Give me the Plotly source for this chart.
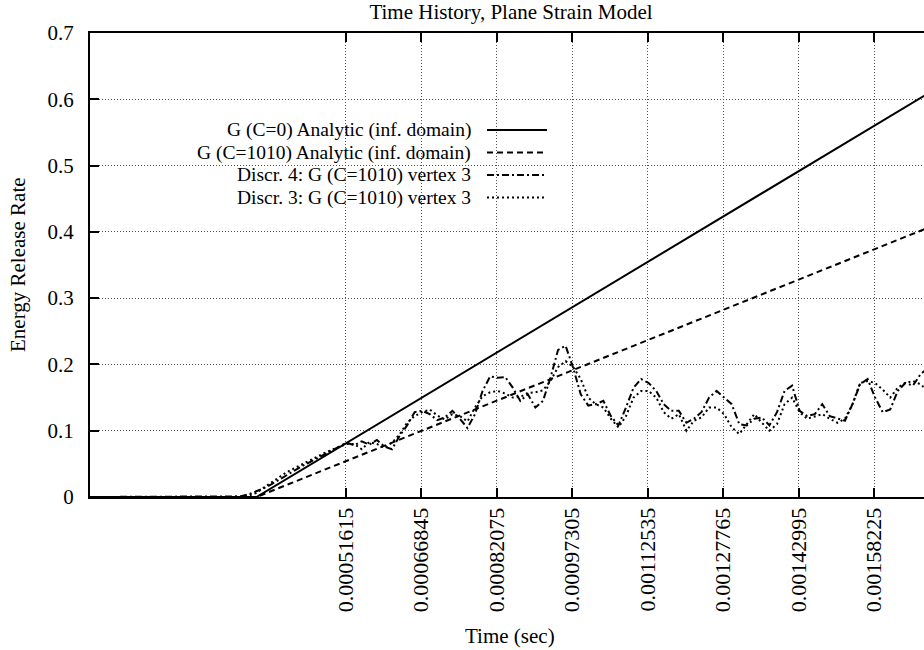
import plotly.graph_objects as go

# ---------------- data ----------------
title_text = "Time History, Plane Strain Model"
x_title = "Time (sec)"
y_title = "Energy Release Rate"

series_names = [
    "G (C=0) Analytic (inf. domain)",
    "G (C=1010) Analytic (inf. domain)",
    "Discr. 4: G (C=1010) vertex 3",
    "Discr. 3: G (C=1010) vertex 3",
]

# analytic solutions (straight lines after crack initiation), time in microseconds
analytic_time_us = [0.0, 336.0, 1700.0]
g_c0_analytic = [0.0, 0.0, 0.613]
g_c1010_analytic = [0.0, 0.0, 0.409]

# discrete simulation output, time in microseconds
discr_time_us = [
    0.0,
    304.6, 319.8, 335.1, 350.3, 365.5, 380.8, 396.0, 411.2, 426.4, 441.7,
    456.9, 472.1, 487.4, 502.6, 517.8, 533.1, 548.3, 563.5, 578.7, 594.0,
    609.2, 624.4, 639.7, 654.9, 670.1, 685.4, 700.6, 715.8, 731.0, 746.3,
    761.5, 776.7, 792.0, 807.2, 822.4, 837.7, 852.9, 868.1, 883.3, 898.6,
    913.8, 929.0, 944.3, 959.5, 974.7, 990.0, 1005.2, 1020.4, 1035.6, 1050.9,
    1066.1, 1081.3, 1096.6, 1111.8, 1127.0, 1142.3, 1157.5, 1172.7, 1187.9, 1203.2,
    1218.4, 1233.6, 1248.9, 1264.1, 1279.3, 1294.6, 1309.8, 1325.0, 1340.2, 1355.5,
    1370.7, 1385.9, 1401.2, 1416.4, 1431.6, 1446.9, 1462.1, 1477.3, 1492.5, 1507.8,
    1523.0, 1538.2, 1553.5, 1568.7, 1583.9, 1599.2, 1614.4, 1629.6, 1644.8, 1660.1,
    1675.3, 1690.5,
]

g_discr4 = [
    0.0,
    0.001, 0.004, 0.008, 0.013, 0.019, 0.026, 0.033, 0.040, 0.046, 0.052,
    0.058, 0.064, 0.070, 0.076, 0.082, 0.078, 0.084, 0.079, 0.086, 0.076,
    0.072, 0.092, 0.108, 0.128, 0.130, 0.125, 0.116, 0.120, 0.130, 0.118,
    0.104, 0.125, 0.160, 0.182, 0.180, 0.181, 0.165, 0.145, 0.155, 0.135,
    0.145, 0.180, 0.222, 0.228, 0.195, 0.155, 0.138, 0.140, 0.145, 0.122,
    0.108, 0.135, 0.165, 0.178, 0.172, 0.160, 0.140, 0.130, 0.130, 0.112,
    0.118, 0.128, 0.150, 0.160, 0.150, 0.140, 0.110, 0.108, 0.118, 0.120,
    0.108, 0.128, 0.160, 0.168, 0.130, 0.122, 0.125, 0.140, 0.122, 0.118,
    0.115, 0.140, 0.170, 0.178, 0.150, 0.128, 0.132, 0.160, 0.172, 0.168,
    0.185, 0.195,
]

g_discr3 = [
    0.0,
    0.000, 0.002, 0.006, 0.014, 0.022, 0.030, 0.037, 0.043, 0.049, 0.055,
    0.060, 0.066, 0.071, 0.076, 0.080, 0.080, 0.072, 0.083, 0.080, 0.074,
    0.082, 0.094, 0.112, 0.122, 0.128, 0.132, 0.123, 0.117, 0.125, 0.122,
    0.114, 0.135, 0.152, 0.158, 0.160, 0.156, 0.150, 0.151, 0.157, 0.158,
    0.161, 0.175, 0.196, 0.205, 0.196, 0.178, 0.150, 0.140, 0.135, 0.118,
    0.105, 0.122, 0.150, 0.160, 0.160, 0.150, 0.128, 0.118, 0.125, 0.100,
    0.115, 0.120, 0.135, 0.135, 0.125, 0.105, 0.095, 0.110, 0.125, 0.112,
    0.100, 0.110, 0.140, 0.150, 0.128, 0.118, 0.122, 0.125, 0.118, 0.112,
    0.118, 0.140, 0.172, 0.175, 0.172, 0.162, 0.150, 0.165, 0.172, 0.175,
    0.170, 0.160,
]

x_tick_values = [0.00051615, 0.00066845, 0.00082075, 0.00097305,
                 0.00112535, 0.00127765, 0.00142995, 0.00158225]
x_tick_labels = ["0.00051615", "0.00066845", "0.00082075", "0.00097305",
                 "0.00112535", "0.00127765", "0.00142995", "0.00158225"]
y_tick_values = [0, 0.1, 0.2, 0.3, 0.4, 0.5, 0.6, 0.7]
y_tick_labels = ["0", "0.1", "0.2", "0.3", "0.4", "0.5", "0.6", "0.7"]

x_range = [0.0, 0.0016825]
y_range = [0.0, 0.7]

# ---------------- styling ----------------
FONT = "Liberation Serif"
FS = 21
LEG_FS = 19.5
dashes = ["solid", "6px,4px", "7px,3px,2px,3px", "2px,3px"]

t_analytic = [v * 1e-6 for v in analytic_time_us]
t_discr = [v * 1e-6 for v in discr_time_us]

fig = go.Figure()
fig.add_trace(go.Scatter(x=t_analytic, y=g_c0_analytic, mode="lines", name=series_names[0],
                         line=dict(color="black", width=2, dash=dashes[0])))
fig.add_trace(go.Scatter(x=t_analytic, y=g_c1010_analytic, mode="lines", name=series_names[1],
                         line=dict(color="black", width=2, dash=dashes[1])))
fig.add_trace(go.Scatter(x=t_discr, y=g_discr4, mode="lines", name=series_names[2],
                         line=dict(color="black", width=2, dash=dashes[2])))
fig.add_trace(go.Scatter(x=t_discr, y=g_discr3, mode="lines", name=series_names[3],
                         line=dict(color="black", width=2, dash=dashes[3])))

# gnuplot-style legend: right-aligned text, sample line to the right
L = 90.0
W = 834.0
T = 33.0
H = 464.0
text_right = (473 - L) / W
sample_x0 = (487 - L) / W
sample_x1 = (547 - L) / W
row_px = [130.0, 152.5, 175.0, 197.5]
annotations = []
shapes = []
for name, dash, rp in zip(series_names, dashes, row_px):
    yp = (T + H - rp) / H
    annotations.append(dict(text=name, xref="paper", yref="paper", x=text_right, y=yp,
                            xanchor="right", yanchor="middle", showarrow=False,
                            font=dict(family=FONT, size=LEG_FS, color="black")))
    shapes.append(dict(type="line", xref="paper", yref="paper", x0=sample_x0, x1=sample_x1,
                       y0=yp, y1=yp, line=dict(color="black", width=2, dash=dash)))

annotations.append(dict(text=y_title, xref="paper", yref="paper", x=(18 - L) / W, y=0.5,
                        xanchor="center", yanchor="middle", textangle=-90, showarrow=False,
                        font=dict(family=FONT, size=FS, color="black")))
annotations.append(dict(text=x_title, xref="paper", yref="paper", x=(510 - L) / W,
                        y=(T + H - 636) / H, xanchor="center", yanchor="middle",
                        showarrow=False, font=dict(family=FONT, size=FS, color="black")))

fig.update_layout(
    width=924, height=650,
    margin=dict(l=90, r=0, t=33, b=153, pad=0),
    paper_bgcolor="white", plot_bgcolor="white",
    showlegend=False,
    font=dict(family=FONT, size=FS, color="black"),
    title=dict(text=title_text, x=511 / 924, xanchor="center", y=1 - 12 / 650, yanchor="middle",
               xref="container", yref="container", font=dict(family=FONT, size=FS, color="black")),
    annotations=annotations,
    shapes=shapes,
)
fig.update_xaxes(range=x_range, tickvals=x_tick_values, ticktext=x_tick_labels,
                 tickangle=-90, ticks="inside", ticklen=9, tickwidth=2, tickcolor="black",
                 showline=True, linecolor="black", linewidth=2, mirror="ticks",
                 showgrid=True, gridcolor="#555555", gridwidth=1, griddash="1px,2px",
                 zeroline=False, ticklabelstandoff=0,
                 tickfont=dict(family=FONT, size=22, color="black"))
fig.update_yaxes(range=y_range, tickvals=y_tick_values, ticktext=y_tick_labels,
                 ticks="inside", ticklen=9, tickwidth=2, tickcolor="black",
                 showline=True, linecolor="black", linewidth=2, mirror=False,
                 showgrid=True, gridcolor="#555555", gridwidth=1, griddash="1px,2px",
                 zeroline=False, ticklabelstandoff=10,
                 tickfont=dict(family=FONT, size=FS, color="black"))

fig.write_html("out.html")
